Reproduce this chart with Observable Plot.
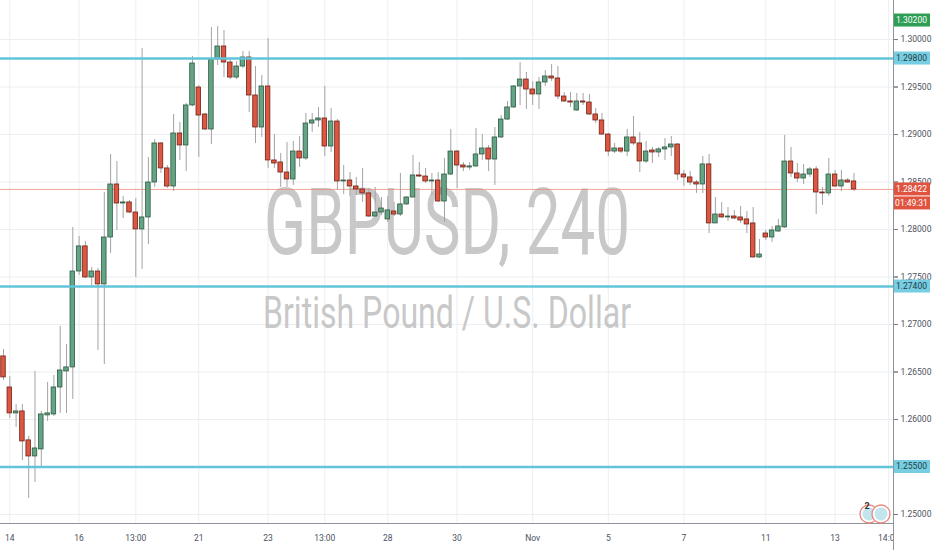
<!DOCTYPE html>
<html>
<head>
<meta charset="utf-8">
<script src="https://cdn.jsdelivr.net/npm/d3@7"></script>
<script src="https://cdn.jsdelivr.net/npm/@observablehq/plot@0.6"></script>
<style>
  html, body { margin: 0; padding: 0; background: #ffffff; }
  #chart { width: 932px; height: 550px; overflow: hidden; }
</style>
</head>
<body>
<div id="chart"></div>
<script>
// GBPUSD 4-hour candles, 14 Oct – 13 Nov
const opens = [
  1.26664, 1.26337, 1.26064, 1.26085, 1.25780, 1.25611, 1.25685, 1.26043, 1.26053, 1.26337,
  1.26506, 1.26548, 1.27558, 1.27822, 1.27495, 1.27558, 1.27422, 1.27916, 1.28474, 1.28274,
  1.28285, 1.28179, 1.28001, 1.28127, 1.28495, 1.28906, 1.28643, 1.28453, 1.29011, 1.28885,
  1.29306, 1.29495, 1.29211, 1.29053, 1.29790, 1.29927, 1.29758, 1.29600, 1.29716, 1.29811,
  1.29411, 1.29074, 1.29506, 1.28727, 1.28706, 1.28600, 1.28527, 1.28821, 1.28748, 1.29116,
  1.29148, 1.29169, 1.28874, 1.29137, 1.28506, 1.28516, 1.28453, 1.28422, 1.28380, 1.28137,
  1.28179, 1.28106, 1.28190, 1.28158, 1.28264, 1.28337, 1.28569, 1.28558, 1.28506, 1.28516,
  1.28295, 1.28579, 1.28821, 1.28674, 1.28653, 1.28664, 1.28790, 1.28853, 1.28737, 1.28969,
  1.29158, 1.29285, 1.29506, 1.29579, 1.29474, 1.29422, 1.29548, 1.29611, 1.29590, 1.29400,
  1.29348, 1.29253, 1.29348, 1.29337, 1.29211, 1.29148, 1.29000, 1.28821, 1.28853, 1.28821,
  1.28969, 1.28906, 1.28716, 1.28832, 1.28811, 1.28843, 1.28864, 1.28895, 1.28579, 1.28548,
  1.28495, 1.28474, 1.28685, 1.28064, 1.28158, 1.28127, 1.28137, 1.28127, 1.28106, 1.28064,
  1.27706, 1.27958, 1.27916, 1.27979, 1.28022, 1.28716, 1.28590, 1.28537, 1.28579, 1.28632,
  1.28390, 1.28380, 1.28579, 1.28453, 1.28516, 1.28506
];
const highs = [
  1.26737, 1.26453, 1.26158, 1.26158, 1.25822, 1.26506, 1.26085, 1.26390, 1.26464, 1.26980,
  1.26790, 1.28022, 1.27927, 1.27874, 1.27601, 1.27590, 1.28390, 1.28790, 1.28716, 1.28348,
  1.28306, 1.28327, 1.29906, 1.28758, 1.28948, 1.28916, 1.28674, 1.29211, 1.29127, 1.29327,
  1.29822, 1.29516, 1.29222, 1.30127, 1.30137, 1.30095, 1.29790, 1.29769, 1.29874, 1.29874,
  1.29716, 1.29621, 1.30011, 1.29000, 1.28800, 1.28916, 1.28927, 1.28979, 1.29222, 1.29222,
  1.29285, 1.29506, 1.29274, 1.29158, 1.28674, 1.28600, 1.28548, 1.28643, 1.28432, 1.28443,
  1.28337, 1.28348, 1.28285, 1.28590, 1.28348, 1.28779, 1.28706, 1.28643, 1.28590, 1.28600,
  1.28748, 1.29053, 1.28832, 1.28706, 1.28706, 1.29064, 1.29000, 1.28885, 1.29074, 1.29200,
  1.29348, 1.29516, 1.29758, 1.29653, 1.29558, 1.29600, 1.29674, 1.29737, 1.29716, 1.29442,
  1.29442, 1.29432, 1.29432, 1.29422, 1.29274, 1.29222, 1.29011, 1.28906, 1.28853, 1.29053,
  1.29190, 1.29022, 1.28927, 1.28864, 1.28864, 1.28958, 1.28979, 1.28906, 1.28622, 1.28611,
  1.28516, 1.28769, 1.28790, 1.28337, 1.28285, 1.28232, 1.28201, 1.28243, 1.28190, 1.28232,
  1.27895, 1.27990, 1.28032, 1.28106, 1.28990, 1.28864, 1.28695, 1.28685, 1.28653, 1.28664,
  1.28443, 1.28748, 1.28622, 1.28622, 1.28537, 1.28590
];
const lows = [
  1.26411, 1.26011, 1.25916, 1.25569, 1.25169, 1.25337, 1.25506, 1.25980, 1.26032, 1.26064,
  1.26064, 1.26211, 1.27516, 1.27484, 1.27390, 1.26727, 1.26579, 1.27748, 1.27990, 1.28116,
  1.28169, 1.27495, 1.27580, 1.27843, 1.28443, 1.28590, 1.28432, 1.28400, 1.28727, 1.28611,
  1.29295, 1.28758, 1.29043, 1.28895, 1.29727, 1.29600, 1.29579, 1.29579, 1.29695, 1.29232,
  1.28906, 1.28969, 1.28643, 1.28643, 1.28443, 1.28443, 1.28464, 1.28653, 1.28727, 1.29022,
  1.29074, 1.28769, 1.28811, 1.28411, 1.28369, 1.28348, 1.28358, 1.28285, 1.28127, 1.28127,
  1.28148, 1.28074, 1.28137, 1.28137, 1.28253, 1.28337, 1.28548, 1.28485, 1.28358, 1.28285,
  1.28074, 1.28569, 1.28432, 1.28611, 1.28622, 1.28653, 1.28727, 1.28611, 1.28464, 1.28958,
  1.29148, 1.29274, 1.29306, 1.29264, 1.29306, 1.29264, 1.29506, 1.29558, 1.29369, 1.29337,
  1.29285, 1.29243, 1.29306, 1.29200, 1.29116, 1.28990, 1.28769, 1.28800, 1.28800, 1.28769,
  1.28885, 1.28600, 1.28695, 1.28695, 1.28758, 1.28727, 1.28769, 1.28516, 1.28453, 1.28464,
  1.28380, 1.28380, 1.27958, 1.28064, 1.28116, 1.28085, 1.28106, 1.28064, 1.27958, 1.27700,
  1.27695, 1.27885, 1.27864, 1.27969, 1.28011, 1.28548, 1.28495, 1.28474, 1.28548, 1.28158,
  1.28253, 1.28348, 1.28443, 1.28400, 1.28485, 1.28400
];
const closes = [
  1.26443, 1.26064, 1.26085, 1.25769, 1.25611, 1.25695, 1.26053, 1.26064, 1.26337, 1.26516,
  1.26548, 1.27558, 1.27822, 1.27495, 1.27558, 1.27422, 1.27916, 1.28474, 1.28274, 1.28285,
  1.28179, 1.28001, 1.28127, 1.28495, 1.28906, 1.28643, 1.28453, 1.29011, 1.28885, 1.29306,
  1.29748, 1.29200, 1.29053, 1.29790, 1.29927, 1.29758, 1.29600, 1.29716, 1.29811, 1.29411,
  1.29074, 1.29506, 1.28727, 1.28695, 1.28600, 1.28527, 1.28821, 1.28748, 1.29116, 1.29148,
  1.29169, 1.28874, 1.29137, 1.28506, 1.28516, 1.28453, 1.28422, 1.28380, 1.28137, 1.28179,
  1.28221, 1.28201, 1.28158, 1.28264, 1.28337, 1.28569, 1.28558, 1.28506, 1.28516, 1.28295,
  1.28579, 1.28821, 1.28674, 1.28653, 1.28664, 1.28790, 1.28853, 1.28737, 1.28969, 1.29158,
  1.29285, 1.29506, 1.29579, 1.29474, 1.29422, 1.29548, 1.29611, 1.29590, 1.29400, 1.29348,
  1.29337, 1.29348, 1.29337, 1.29211, 1.29148, 1.29000, 1.28821, 1.28853, 1.28821, 1.28969,
  1.28906, 1.28716, 1.28821, 1.28811, 1.28843, 1.28864, 1.28895, 1.28579, 1.28548, 1.28495,
  1.28474, 1.28685, 1.28064, 1.28158, 1.28127, 1.28137, 1.28116, 1.28095, 1.28053, 1.27706,
  1.27737, 1.27916, 1.27990, 1.28032, 1.28716, 1.28590, 1.28537, 1.28579, 1.28632, 1.28390,
  1.28380, 1.28579, 1.28453, 1.28516, 1.28495, 1.28422
];

// Horizontal support / resistance levels and price-scale ticks
const levels = [1.29800, 1.27400, 1.25500];
const alertPrice = 1.30200;
const priceTicks = [1.25, 1.255, 1.26, 1.265, 1.27, 1.275, 1.28, 1.285, 1.29, 1.295, 1.30];
const countdown = "01:49:31";

// Time-scale labels, placed at bar numbers
const timeTickBars   = [2, 13, 22, 32, 43, 52, 62, 73, 85, 97, 109, 122, 133, 141.5];
const timeTickLabels = ["14", "16", "13:00", "21", "23", "13:00", "28", "30", "Nov", "5", "7", "11", "13", "14:00"];

const symbolTitle = "GBPUSD, 240";
const symbolName = "British Pound / U.S. Dollar";

const candles = opens.map((o, k) => ({
  bar: k + 1, open: o, high: highs[k], low: lows[k], close: closes[k]
}));
const lastClose = closes[closes.length - 1];
const labelByBar = new Map(timeTickBars.map((b, k) => [b, timeTickLabels[k]]));
// tick labels that sit exactly under a level tag are left to the tag
const labelledTicks = priceTicks.filter(t => !levels.some(l => Math.abs(l - t) < 1e-9));

const UP_FILL = "#64a383", UP_LINE = "#2b5a42";
const DOWN_FILL = "#dc5641", DOWN_LINE = "#6f2317";
const xDomain = [0.524, 142.27];
const yDomain = [1.24905, 1.30411];
const font = "Roboto, 'Liberation Sans', Arial, sans-serif";

const plot = Plot.plot({
  width: 932,
  height: 550,
  marginLeft: 0,
  marginRight: 39,
  marginTop: 0,
  marginBottom: 27,
  style: { fontFamily: font, fontSize: "8.5px", color: "#4c525e", background: "#ffffff" },
  x: { type: "linear", domain: xDomain },
  y: { domain: yDomain },
  color: { type: "identity" },
  marks: [
    Plot.gridY(priceTicks, { stroke: "#eceef2", strokeOpacity: 1 }),
    Plot.gridX(timeTickBars, { stroke: "#eceef2", strokeOpacity: 1 }),
    // symbol watermark
    Plot.text([symbolTitle], { frameAnchor: "middle", dy: -37, fontSize: 92, fill: "#c8c8c8", fontFamily: font }),
    Plot.text([symbolName], { frameAnchor: "middle", dy: 52, fontSize: 44, fill: "#c8c8c8", fontFamily: font }),
    // last price line
    Plot.ruleY([lastClose], { stroke: "#ee8276", strokeOpacity: 0.75, strokeWidth: 1 }),
    // candles
    Plot.ruleX(candles, { x: "bar", y1: "low", y2: "high", stroke: "#a3a3a3", strokeWidth: 1 }),
    Plot.rect(candles, {
      x1: d => d.bar - 0.36,
      x2: d => d.bar + 0.36,
      y1: "open",
      y2: "close",
      fill: d => d.close >= d.open ? UP_FILL : DOWN_FILL,
      stroke: d => d.close >= d.open ? UP_LINE : DOWN_LINE,
      strokeWidth: 0.8
    }),
    // drawn levels
    Plot.ruleY(levels, { stroke: "#62c4d9", strokeWidth: 2.5 }),
    // axes
    Plot.axisY(priceTicks, {
      anchor: "right", tickSize: 4, tickPadding: 3, label: null, text: null, stroke: "#7b7f88"
    }),
    Plot.axisY(labelledTicks, {
      anchor: "right", tickSize: 4, tickPadding: 3, label: null,
      tickFormat: d => d.toFixed(5), fill: "#4c525e", stroke: "#7b7f88"
    }),
    Plot.axisX(timeTickBars, {
      anchor: "bottom", tickSize: 0, tickPadding: 11, label: null,
      tickFormat: d => labelByBar.get(d), fill: "#4c525e"
    }),
    Plot.ruleX([xDomain[1]], { stroke: "#8e929b", strokeWidth: 1 }),
    Plot.ruleY([yDomain[0]], { stroke: "#8e929b", strokeWidth: 1 })
  ]
});

document.getElementById("chart").appendChild(plot);

// Post-processing: condensed watermark, clipped time labels, price-scale tags
const svg = d3.select(plot);
svg.selectAll("text").filter(function () { return this.textContent === symbolTitle; })
  .attr("textLength", 366).attr("lengthAdjust", "spacingAndGlyphs");
svg.selectAll("text").filter(function () { return this.textContent === symbolName; })
  .attr("textLength", 368).attr("lengthAdjust", "spacingAndGlyphs");

const xs = plot.scale("x"), ys = plot.scale("y");
const right = xs.apply(xDomain[1]);
const defs = svg.append("defs");
defs.append("clipPath").attr("id", "time-clip")
  .append("rect").attr("x", 0).attr("y", 0).attr("width", right).attr("height", 550);
svg.selectAll('g[aria-label="x-axis tick label"]').attr("clip-path", "url(#time-clip)");

// the price-scale border runs down through the time scale
svg.append("line").attr("x1", right + 0.5).attr("x2", right + 0.5)
  .attr("y1", ys.apply(yDomain[0])).attr("y2", 550).attr("stroke", "#8e929b");

const tags = [
  { value: alertPrice, text: alertPrice.toFixed(5), fill: "#2f9e55", color: "#ffffff", row: 0 },
  ...levels.map(v => ({ value: v, text: v.toFixed(5), fill: "#77cde1", color: "#1e3d47", row: 0 })),
  { value: lastClose, text: lastClose.toFixed(5), fill: "#e0533f", color: "#ffffff", row: 0 },
  { value: lastClose, text: countdown, fill: "#e0533f", color: "#ffffff", row: 1 }
];
const tagH = 13;
const g = svg.append("g").attr("font-family", font).attr("font-size", 8.5);
for (const t of tags) {
  const cy = ys.apply(t.value) + t.row * (tagH + 1);
  g.append("rect").attr("x", right + 1).attr("y", cy - tagH / 2)
    .attr("width", 932 - right - 3).attr("height", tagH).attr("fill", t.fill);
  g.append("text").attr("x", (right + 1 + 929) / 2).attr("y", cy).attr("dy", "0.35em")
    .attr("text-anchor", "middle").attr("fill", t.color).text(t.text);
}

// currency flags badge in the lower-right corner of the pane
const badgeY = ys.apply(1.25);
const badge = svg.append("g");
[right - 24, right - 12].forEach(cx => {
  badge.append("circle").attr("cx", cx).attr("cy", badgeY).attr("r", 9)
    .attr("fill", "#ffffff").attr("stroke", "#e8877b").attr("stroke-width", 1.3);
  badge.append("circle").attr("cx", cx).attr("cy", badgeY).attr("r", 6.5)
    .attr("fill", "#8fcfe0").attr("fill-opacity", 0.55);
});
badge.append("text").attr("x", right - 26).attr("y", badgeY - 5)
  .attr("font-family", font).attr("font-size", 9).attr("font-weight", "bold")
  .attr("fill", "#333").attr("text-anchor", "middle").text("2");
</script>
</body>
</html>
